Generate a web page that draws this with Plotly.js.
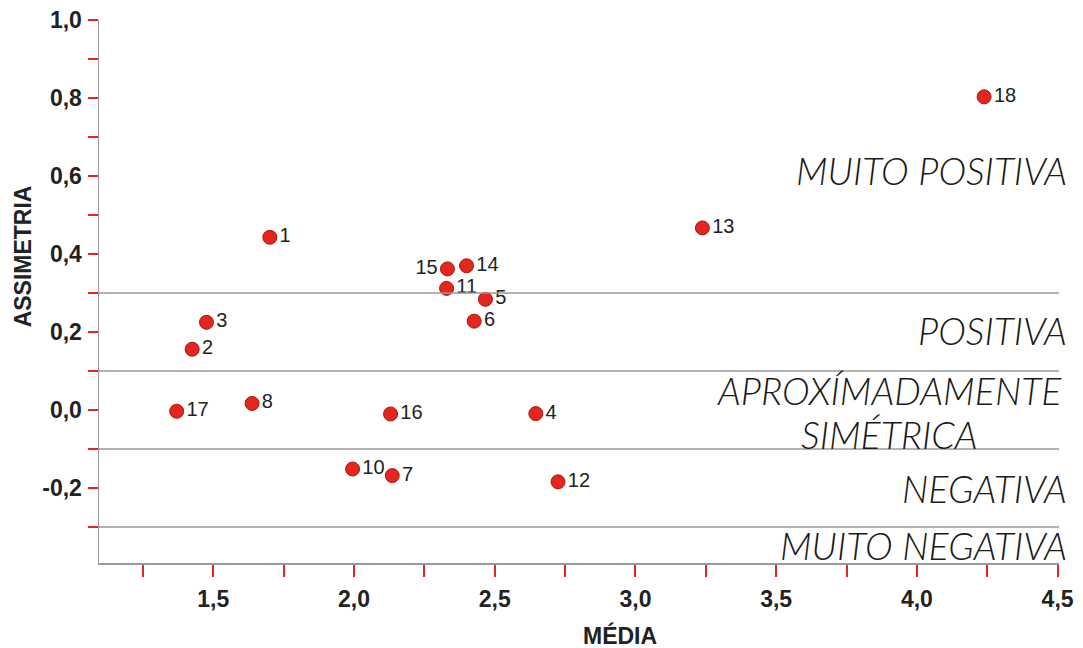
<!DOCTYPE html>
<html><head><meta charset="utf-8">
<script src="https://cdn.plot.ly/plotly-3.0.1.min.js"></script>
<style>html,body{margin:0;padding:0;background:#fff}#chart{width:1083px;height:648px}</style>
</head><body><div id="chart"></div>
<script>
const pointIds   = ['1','2','3','4','5','6','7','8','10','11','12','13','14','15','16','17','18'];
const media      = [1.701,1.425,1.476,2.646,2.467,2.427,2.136,1.638,1.995,2.329,2.725,3.238,2.400,2.332,2.130,1.370,4.239];
const assimetria = [0.443,0.156,0.225,-0.009,0.284,0.228,-0.168,0.017,-0.151,0.312,-0.184,0.467,0.370,0.362,-0.010,-0.003,0.803];
const labelPos   = ['middle right','middle right','middle right','middle right','middle right','middle right','middle right','middle right','middle right','middle right','middle right','middle right','middle right','middle left','middle right','middle right','middle right'];

const xTickVals = [1.25,1.5,1.75,2.0,2.25,2.5,2.75,3.0,3.25,3.5,3.75,4.0,4.25,4.5];
const xTickText = ['','1,5','','2,0','','2,5','','3,0','','3,5','','4,0','','4,5'];
const yTickVals = [1.0,0.9,0.8,0.7,0.6,0.5,0.4,0.3,0.2,0.1,0.0,-0.1,-0.2,-0.3];
const yTickText = ['1,0','','0,8','','0,6','','0,4','','0,2','','0,0','','-0,2',''];

const classBounds = [0.3,0.1,-0.1,-0.3];
const classLabels = ['MUITO POSITIVA','POSITIVA','APROXÍMADAMENTE','SIMÉTRICA','NEGATIVA','MUITO NEGATIVA'];
const classLabelY = [0.613,0.203,0.051,-0.063,-0.200,-0.346];

const xTitle = 'MÉDIA';
const yTitle = 'ASSIMETRIA';

const baseFont = 'Liberation Sans, Arial, sans-serif';
const classFont = {family:'Lato, Inter, sans-serif', size:37.5, color:'#1a1a1a', style:'italic', weight:300};

const trace = {
  x: media, y: assimetria, text: pointIds, mode:'markers+text', type:'scatter',
  textposition: labelPos,
  textfont:{family:baseFont, size:20, color:'#222'},
  marker:{size:14, color:'#e32620', line:{color:'#a8160f', width:1}},
  hoverinfo:'skip', cliponaxis:false
};

const shapes = classBounds.map(v => ({
  type:'line', xref:'paper', x0:0, x1:1, yref:'y', y0:v, y1:v,
  line:{color:'#9a9a9a', width:1.5}
}));

// centre of the two-line "APROXÍMADAMENTE / SIMÉTRICA" block, others right-aligned
const annotations = classLabels.map((t,i) => {
  const centred = (i === 2 || i === 3);
  return {
    text:t, xref:'paper', x: centred ? 0.823 : 1.01, xanchor: centred ? 'center' : 'right',
    yref:'y', y:classLabelY[i], yanchor:'middle', showarrow:false, font:classFont
  };
});
annotations.push({text:'<b>'+xTitle+'</b>', xref:'paper', x:0.543, yref:'paper', y:-0.133, yanchor:'middle', xanchor:'center', showarrow:false, font:{family:baseFont, size:23, color:'#222'}});
annotations.push({text:'<b>'+yTitle+'</b>', xref:'paper', x:-0.079, yref:'paper', y:0.565, xanchor:'center', yanchor:'middle', textangle:-90, showarrow:false, font:{family:baseFont, size:23, color:'#222'}});

const layout = {
  width:1083, height:648,
  margin:{l:99, r:24, t:20, b:85},
  paper_bgcolor:'#fff', plot_bgcolor:'#fff',
  showlegend:false,
  xaxis:{range:[1.094,4.505], showgrid:false, zeroline:false, showline:true, linecolor:'#9a9a9a', linewidth:1.5,
    ticks:'outside', ticklen:12, tickwidth:2, tickcolor:'#e32620', tickmode:'array', tickvals:xTickVals, ticktext:xTickText,
    tickfont:{family:baseFont, size:23, color:'#222', weight:'bold'}, ticklabelstandoff:3},
  yaxis:{range:[-0.392,1.0], showgrid:false, zeroline:false, showline:true, linecolor:'#9a9a9a', linewidth:1.5,
    ticks:'outside', ticklen:10, tickwidth:2, tickcolor:'#e32620', tickmode:'array', tickvals:yTickVals, ticktext:yTickText,
    tickfont:{family:baseFont, size:23, color:'#222', weight:'bold'}, ticklabelstandoff:1},
  shapes: shapes,
  annotations: annotations
};

Plotly.newPlot('chart', [trace], layout, {displayModeBar:false, staticPlot:true});
</script>
</body></html>
